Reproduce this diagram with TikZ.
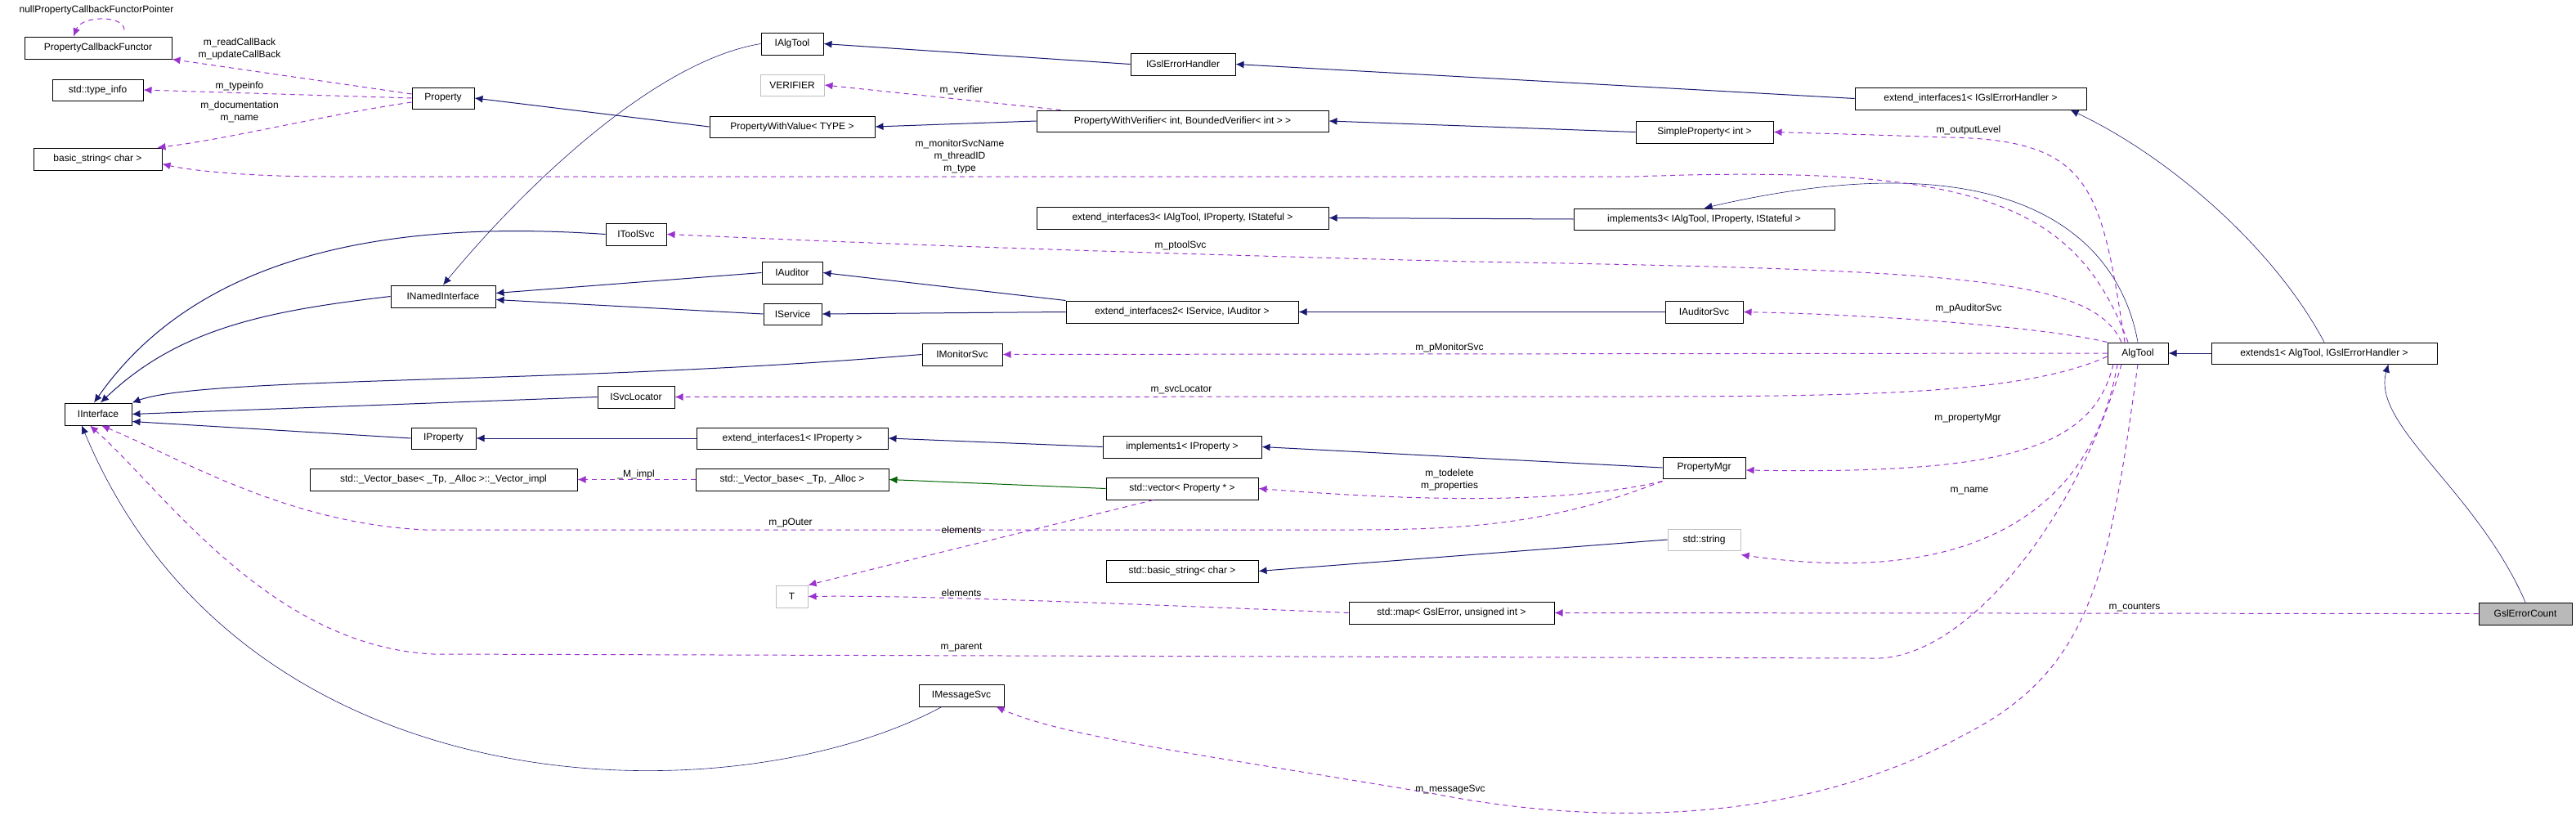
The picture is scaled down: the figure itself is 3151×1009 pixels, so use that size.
\documentclass[tikz,border=0pt]{standalone}
\usepackage{fontspec}
\setmainfont{Liberation Sans}
\usetikzlibrary{arrows.meta}
\definecolor{navy}{HTML}{191970}
\definecolor{purp}{HTML}{9A32CD}
\definecolor{dgreen}{HTML}{006400}
\tikzset{
 box/.style={draw=black,line width=1pt,inner sep=0pt,font=\fontsize{12}{14}\selectfont,fill=white},
 gbox/.style={box,draw=gray!50},
 inh/.style={navy,line width=1pt,-{Latex[length=10pt,width=9pt]}},
 inhthin/.style={navy,line width=0.6pt,-{Latex[length=10pt,width=9pt]}},
 grn/.style={dgreen,line width=1pt,-{Latex[length=10pt,width=9pt]}},
 use/.style={purp,line width=1pt,dashed,dash pattern=on 6pt off 5pt,-{Latex[length=10pt,width=9pt]}},
 lbl/.style={font=\fontsize{12}{15}\selectfont,align=center,inner sep=0pt},
}
\newcommand\bxn[6][]{\node[box,#1,minimum width={#4pt-#2pt},minimum height={#5pt-#3pt}] (#6) at ({(#2+#4)/2},{(#3+#5)/2})}
\begin{document}
\begin{tikzpicture}[x=1pt,y=-1pt]
\useasboundingbox (0,0) rectangle (3151,1009);
% boxes
\bxn{30}{45}{210}{72}{pcf} {PropertyCallbackFunctor};
\bxn{64}{97}{175}{123}{ti} {std::type\_info};
\bxn{41}{181}{198}{208}{bs} {basic\_string< char >};
\bxn{504}{107}{580}{133}{prop} {Property};
\bxn{931}{40}{1007}{67}{ialg} {IAlgTool};
\bxn[gbox]{930}{91}{1008}{117}{ver} {VERIFIER};
\bxn{868}{142}{1070}{168}{pwv} {PropertyWithValue< TYPE >};
\bxn{1268}{135}{1625}{161}{pwver} {PropertyWithVerifier< int, BoundedVerifier< int > >};
\bxn{1383}{65}{1511}{92}{igsl} {IGslErrorHandler};
\bxn{1268}{253}{1625}{280}{ei3} {extend\_interfaces3< IAlgTool, IProperty, IStateful >};
\bxn{2269}{107}{2552}{134}{ei1g} {extend\_interfaces1< IGslErrorHandler >};
\bxn{2001}{148}{2169}{175}{sp} {SimpleProperty< int >};
\bxn{1925}{255}{2244}{281}{im3} {implements3< IAlgTool, IProperty, IStateful >};
\bxn{2037}{368}{2132}{395}{ias} {IAuditorSvc};
\bxn{2578}{419}{2652}{445}{alg} {AlgTool};
\bxn{2705}{419}{2981}{445}{ext1} {extends1< AlgTool, IGslErrorHandler >};
\bxn{741}{273}{815}{300}{its} {IToolSvc};
\bxn{932}{320}{1006}{347}{iaud} {IAuditor};
\bxn{478}{349}{606}{376}{ini} {INamedInterface};
\bxn{934}{371}{1005}{397}{iser} {IService};
\bxn{79}{493}{161}{520}{iint} {IInterface};
\bxn{731}{472}{825}{499}{isl} {ISvcLocator};
\bxn{503}{523}{582}{549}{iprop} {IProperty};
\bxn{852}{523}{1086}{549}{ei1p} {extend\_interfaces1< IProperty >};
\bxn{379}{573}{706}{600}{vimpl} {std::\_Vector\_base< \_Tp, \_Alloc >::\_Vector\_impl};
\bxn{851}{573}{1087}{600}{vbase} {std::\_Vector\_base< \_Tp, \_Alloc >};
\bxn{1128}{420}{1226}{447}{imon} {IMonitorSvc};
\bxn{1304}{368}{1588}{395}{ei2} {extend\_interfaces2< IService, IAuditor >};
\bxn{1349}{533}{1543}{560}{im1} {implements1< IProperty >};
\bxn{2034}{559}{2135}{585}{pmgr} {PropertyMgr};
\bxn{1353}{584}{1539}{611}{vec} {std::vector< Property * >};
\bxn[gbox]{2040}{647}{2129}{673}{sstr} {std::string};
\bxn{1353}{685}{1539}{712}{sbs} {std::basic\_string< char >};
\bxn[gbox]{949}{716}{988}{743}{T} {T};
\bxn{1124}{837}{1228}{864}{imsg} {IMessageSvc};
\bxn{1650}{736}{1901}{763}{map} {std::map< GslError, unsigned int >};
\bxn[fill=gray!55]{3032}{737}{3146}{764}{gec} {GslErrorCount};

% inheritance
\draw[inhthin] (ialg.west) .. controls (800,75) and (640,230) .. (ini.north);
\draw[inh] (igsl.west) -- (ialg.east);
\draw[inh] (ei1g.west) -- (igsl.east);
\draw[inh] (pwv.west) -- (prop.east);
\draw[inh] (pwver.west) -- (pwv.east);
\draw[inh] (sp.west) -- (pwver.east);
\draw[inh] (im3.west) -- (ei3.east);
\draw[inhthin] (alg.north) .. controls (2590,280) and (2450,170) .. (im3.north);
\draw[inhthin] (ext1.north) .. controls (2780,300) and (2650,190) .. ([xshift=-20pt]ei1g.south east);
\draw[inh] (ext1.west) -- (alg.east);
\draw[inhthin] (gec.north) .. controls (3030,600) and (2900,520) .. ([xshift=-60pt]ext1.south east);
\draw[inh] (its.west) .. controls (500,270) and (250,300) .. ([xshift=-5pt]iint.north);
\draw[inh] (ini.west) .. controls (330,380) and (220,400) .. ([xshift=3pt]iint.north);
\draw[inh] (iaud.west) -- ([yshift=4pt]ini.east);
\draw[inh] (iser.west) -- ([yshift=-4pt]ini.east);
\draw[inh] (ei2.north west) -- (iaud.east);
\draw[inh] (ei2.west) -- (iser.east);
\draw[inh] (ias.west) -- (ei2.east);
\draw[inh] (imon.west) .. controls (700,470) and (250,460) .. (iint.north east);
\draw[inh] (isl.west) -- (iint.east);
\draw[inh] (iprop.west) -- ([yshift=5pt]iint.south east);
\draw[inh] (ei1p.west) -- (iprop.east);
\draw[inh] (im1.west) -- (ei1p.east);
\draw[inh] (pmgr.west) -- (im1.east);
\draw[inh] (sstr.west) -- (sbs.east);
\draw[grn] (vec.west) -- (vbase.east);
\draw[inhthin] ([xshift=-24pt]imsg.south) .. controls (900,1000) and (300,1000) .. ([xshift=-20pt]iint.south);

% usage
\draw[use] ([xshift=32pt,yshift=8pt]pcf.north) .. controls ([xshift=32pt,yshift=26pt]pcf.north) and ([xshift=-20pt,yshift=26pt]pcf.north) .. ([xshift=-30pt]pcf.north);
\node[lbl] (l0) at (118,12) {nullPropertyCallbackFunctorPointer};
\draw[use] ([yshift=5pt]prop.west) -- (pcf.south east);
\node[lbl] (l1) at (293,60) {m\_readCallBack\\m\_updateCallBack};
\draw[use] (prop.west) -- (ti.east);
\node[lbl] (l2) at (293,105) {m\_typeinfo};
\draw[use] ([yshift=-5pt]prop.west) .. controls (400,140) and (280,170) .. ([xshift=-6pt]bs.north east);
\node[lbl] (l3) at (293,137) {m\_documentation\\m\_name};
\draw[use] ([xshift=-12pt]alg.north) .. controls (2540,250) and (2420,200) .. (2000,216) -- (400,216) .. controls (300,216) and (230,208) .. ([yshift=-6pt]bs.east);
\node[lbl] (l4) at (1174,191) {m\_monitorSvcName\\m\_threadID\\m\_type};
\draw[use] ([xshift=30pt]pwver.north west) -- (ver.east);
\node[lbl] (l5) at (1176,110) {m\_verifier};
\draw[use] ([xshift=-16pt]alg.north) .. controls (2570,230) and (2560,170) .. (2380,168) .. controls (2300,165) and (2220,163) .. (sp.east);
\node[lbl] (l6) at (2408,159) {m\_outputLevel};
\draw[use] ([xshift=-20pt]alg.north) .. controls (2560,340) and (2400,330) .. (1800,320) .. controls (1200,305) and (900,290) .. (its.east);
\node[lbl] (l7) at (1444,300) {m\_ptoolSvc};
\draw[use] (alg.north west) .. controls (2500,400) and (2300,385) .. (ias.east);
\node[lbl] (l8) at (2408,377) {m\_pAuditorSvc};
\draw[use] (alg.west) -- (imon.east);
\node[lbl] (l9) at (1773,425) {m\_pMonitorSvc};
\draw[use] ([yshift=-4pt]alg.west) .. controls (2480,480) and (2300,485) .. (2000,485) -- (isl.east);
\node[lbl] (l10) at (1445,477) {m\_svcLocator};
\draw[use] ([xshift=-30pt]alg.south) .. controls (2560,550) and (2450,580) .. ([yshift=-3pt]pmgr.east);
\node[lbl] (l11) at (2407,512) {m\_propertyMgr};
\draw[use] ([xshift=-25pt]alg.south) .. controls (2560,620) and (2420,720) .. ([yshift=-5pt]sstr.south east);
\node[lbl] (l12) at (2409,600) {m\_name};
\draw[use] ([xshift=-20pt]alg.south) .. controls (2540,640) and (2400,810) .. (2290,805) -- (530,800) .. controls (330,790) and (200,600) .. ([xshift=-10pt]iint.south);
\node[lbl] (l13) at (1176,792) {m\_parent};
\draw[use] ([yshift=-3pt]pmgr.south west) .. controls (1900,640) and (1800,648) .. (1650,648) -- (520,648) .. controls (350,640) and (220,560) .. ([xshift=4pt]iint.south);
\node[lbl] (l14) at (967,640) {m\_pOuter};
\draw[use] ([yshift=-3pt]pmgr.south west) .. controls (1900,620) and (1700,610) .. (vec.east);
\node[lbl] (l15) at (1773,587) {m\_todelete\\m\_properties};
\draw[use] ([xshift=-35pt]vec.south) -- (T.north east);
\node[lbl] (l16) at (1176,648) {elements};
\draw[use] (map.west) .. controls (1300,735) and (1100,728) .. (T.east);
\node[lbl] (l17) at (1176,725) {elements};
\draw[use] (vbase.west) -- (vimpl.east);
\node[lbl] (l20) at (778,580) {\_M\_impl};
\draw[use] (alg.south) .. controls (2580,700) and (2560,820) .. (2400,900) .. controls (2200,1010) and (1950,1010) .. (1750,970) .. controls (1450,920) and (1300,900) .. ([xshift=-10pt]imsg.south east);
\node[lbl] (l18) at (1774,966) {m\_messageSvc};
\draw[use] (gec.west) -- (map.east);
\node[lbl] (l19) at (2611,743) {m\_counters};
\end{tikzpicture}
\end{document}
